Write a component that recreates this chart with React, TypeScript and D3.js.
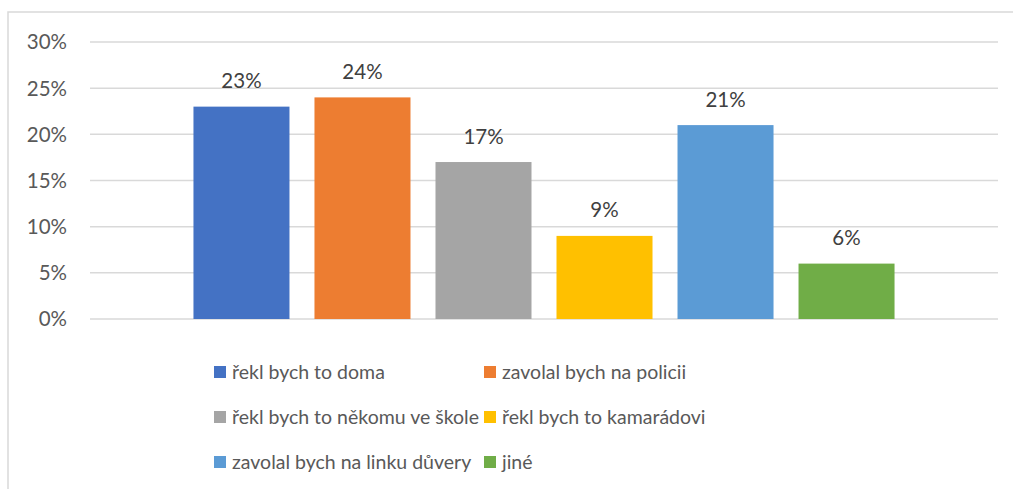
import React from "react"
import * as d3 from "d3"

const categories = [
  "řekl bych to doma",
  "zavolal bych na policii",
  "řekl bych to někomu ve škole",
  "řekl bych to kamarádovi",
  "zavolal bych na linku důvery",
  "jiné",
]
const values = [23, 24, 17, 9, 21, 6]
const colors = ["#4472C4", "#ED7D31", "#A5A5A5", "#FFC000", "#5B9BD5", "#70AD47"]
const yTicks = [0, 5, 10, 15, 20, 25, 30]

const W = 1013
const H = 489
const FONT = "Lato, sans-serif"

export default function App() {
  const plot = { left: 90, right: 998, top: 42, bottom: 319 }

  const x = d3.scaleBand<string>()
    .domain(categories)
    .range([plot.left, plot.right])
    .paddingInner(0.2066)
    .paddingOuter(0.855)

  const y = d3.scaleLinear().domain([0, 30]).range([plot.bottom, plot.top])

  // legend: 3 rows x 2 columns
  const legendCols = [214, 484]
  const legendRows = [372, 417, 462]

  return (
    <svg width={W} height={H} style={{ position: "absolute", left: 0, top: 0, background: "#fff" }}
      fontFamily={FONT}>
      <rect x={8} y={12} width={W + 10} height={H + 10} fill="#fff" stroke="#D9D9D9" strokeWidth={1.5} />
      {yTicks.map(t => (
        <g key={t}>
          <line x1={plot.left} x2={plot.right} y1={y(t)} y2={y(t)} stroke="#D9D9D9" strokeWidth={1.5} />
          <text x={67} y={y(t)} dy="0.36em" textAnchor="end" fontSize={20.5} fill="#595959">{t}%</text>
        </g>
      ))}
      {categories.map((c, i) => (
        <g key={c}>
          <rect x={x(c)} y={y(values[i])} width={x.bandwidth()} height={y(0) - y(values[i])} fill={colors[i]} />
          <text x={(x(c) as number) + x.bandwidth() / 2} y={y(values[i]) - 18.5} textAnchor="middle"
            fontSize={20.5} fill="#404040">{values[i]}%</text>
        </g>
      ))}
      {categories.map((c, i) => {
        const lx = legendCols[i % 2]
        const ly = legendRows[Math.floor(i / 2)]
        return (
          <g key={"l" + c}>
            <rect x={lx} y={ly - 6} width={12} height={12} fill={colors[i]} />
            <text x={lx + 18} y={ly} dy="0.36em" fontSize={19.5} fill="#595959">{c}</text>
          </g>
        )
      })}
    </svg>
  )
}
